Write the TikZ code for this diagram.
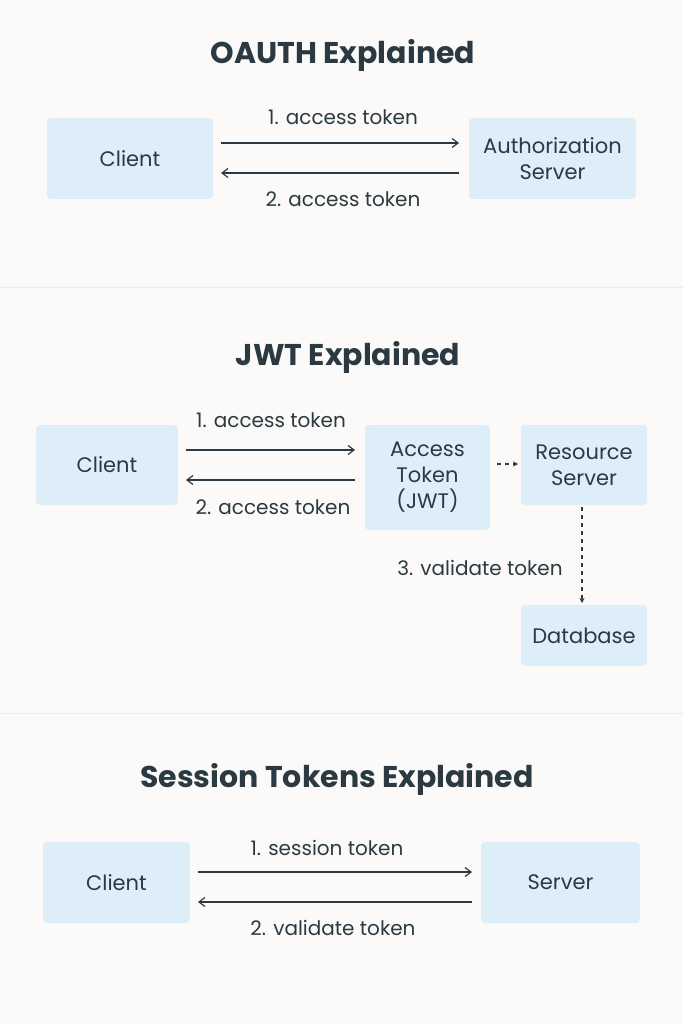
\documentclass[tikz,border=0pt]{standalone}
\usepackage{fontspec}
\setmainfont{Poppins}
\usetikzlibrary{arrows.meta}
\definecolor{bg}{HTML}{FBFAF8}
\definecolor{boxc}{HTML}{DDEEF8}
\definecolor{ink}{HTML}{2B3A42}
\definecolor{sep}{HTML}{ECEBE8}
\begin{document}
\begin{tikzpicture}[x=1pt,y=-1pt,
  box/.style={fill=boxc,rounded corners=4pt,align=center,text=ink,font=\fontsize{21}{26}\selectfont},
  lbl/.style={text=ink,font=\fontsize{20}{24}\selectfont},
  ttl/.style={text=ink,font=\fontsize{30}{35}\selectfont\bfseries},
  arr/.style={draw=ink,line width=1.2pt,-{Straight Barb[length=6pt,width=9pt]}},
  darr/.style={draw=ink,line width=1.2pt,dashed,dash pattern=on 4pt off 4pt,-{Stealth[length=5pt,width=5pt]}}]
\fill[bg] (0,0) rectangle (683,1024);
\useasboundingbox (0,0) rectangle (683,1024);
\draw[sep,line width=1pt] (0,287) -- (683,287);
\draw[sep,line width=1pt] (0,713) -- (683,713);
% OAUTH
\node[ttl] (t1) at (343,55) {OAUTH Explained};
\node[box,minimum width=166pt,minimum height=81pt] (c1) at (130,158.5) {Client};
\node[box,minimum width=167pt,minimum height=81pt] (a1) at (552.5,158.5) {Authorization\\Server};
\coordinate (p1) at (221,143); \coordinate (q1) at (459,143);
\coordinate (p2) at (459,173); \coordinate (q2) at (221,173);
\draw[arr] (p1) -- (q1);
\draw[arr] (p2) -- (q2);
\node[lbl] (l1) at (343,117) {1. access token};
\node[lbl] (l2) at (343,199) {2. access token};
% JWT
\node[ttl] (t2) at (348,357) {JWT Explained};
\node[box,minimum width=142pt,minimum height=80pt] (c2) at (107,465) {Client};
\node[box,minimum width=125pt,minimum height=105pt] (at) at (427.5,477.5) {Access\\Token\\(JWT)};
\node[box,minimum width=126pt,minimum height=80pt] (rs) at (584,465) {Resource\\Server};
\node[box,minimum width=126pt,minimum height=61pt] (db) at (584,635.5) {Database};
\coordinate (p3) at (186,450); \coordinate (q3) at (355,450);
\coordinate (p4) at (355,480); \coordinate (q4) at (186,480);
\draw[arr] (p3) -- (q3);
\draw[arr] (p4) -- (q4);
\node[lbl] (l3) at (271,420) {1. access token};
\node[lbl] (l4) at (273,507) {2. access token};
\coordinate (d1) at (497,464); \coordinate (d2) at (518,464);
\draw[darr] (d1) -- (d2);
\coordinate (v1) at (582,507); \coordinate (v2) at (582,603);
\draw[darr] (v1) -- (v2);
\node[lbl] (l5) at (480,568) {3. validate token};
% Session
\node[ttl] (t3) at (337,779) {Session Tokens Explained};
\node[box,minimum width=147pt,minimum height=81pt] (c3) at (116.5,882.5) {Client};
\node[box,minimum width=159pt,minimum height=81pt] (s3) at (560.5,882.5) {Server};
\coordinate (p5) at (198,872); \coordinate (q5) at (472,872);
\coordinate (p6) at (472,902); \coordinate (q6) at (198,902);
\draw[arr] (p5) -- (q5);
\draw[arr] (p6) -- (q6);
\node[lbl] (l6) at (327,848) {1. session token};
\node[lbl] (l7) at (333,928) {2. validate token};
\end{tikzpicture}
\end{document}
